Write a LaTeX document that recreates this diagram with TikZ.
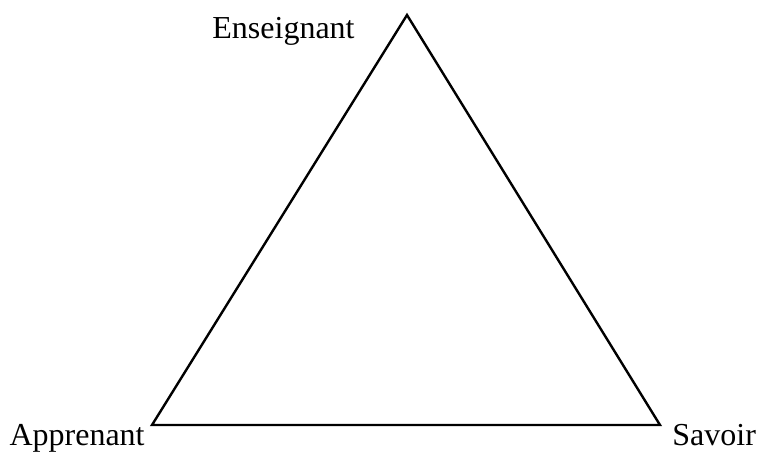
\documentclass[tikz,border=0pt]{standalone}
\usepackage{fontspec}
\setmainfont{Liberation Serif}
\tikzset{
    tri edge/.style={line width=1.2pt, black, line join=miter},
    tri label/.style={font=\fontsize{16}{19}\selectfont, inner sep=0pt},
}
\begin{document}
\begin{tikzpicture}[x=0.5pt, y=0.5pt]
    \useasboundingbox (0, 0) rectangle (757, 452);
    % Vertices
    \coordinate (ens) at (407, 437);
    \coordinate (app) at (152, 27);
    \coordinate (sav) at (660, 27);
    % Triangle
    \draw[tri edge] (ens) -- (app) -- (sav) -- cycle;
    % Labels
    \node[tri label, anchor=base east] (ensl) at (355, 414) {Enseignant};
    \node[tri label, anchor=base east] (appl) at (145, 7) {Apprenant};
    \node[tri label, anchor=base west] (savl) at (672, 7) {Savoir};
\end{tikzpicture}
\end{document}
